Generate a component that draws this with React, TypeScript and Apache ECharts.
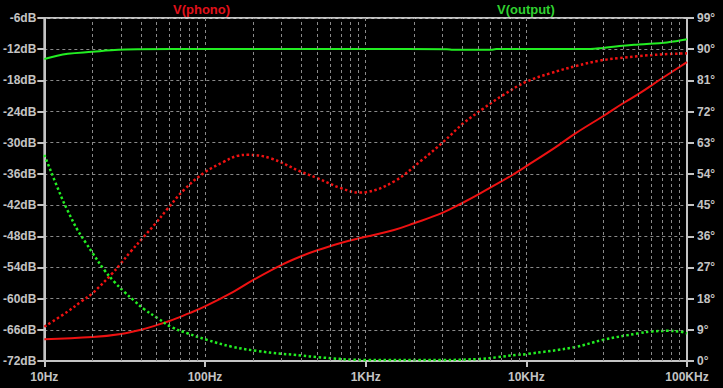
import React, { useEffect, useRef } from "react";
import * as echarts from "echarts";

// V(phono) magnitude (solid red), dB
const phonoMagFreq = [10, 20, 30, 40, 50, 60, 70, 80, 100, 150, 200, 300, 400, 500, 700, 1000, 1500, 2000, 3000, 4000, 5000, 6000, 8000, 10000, 15000, 20000, 30000, 40000, 50000, 70000, 100000];
const phonoMagDb = [-67.8, -67.4, -66.8, -66.0, -65.1, -64.3, -63.5, -62.8, -61.5, -58.7, -56.4, -53.5, -51.8, -50.7, -49.3, -48.1, -46.8, -45.5, -43.5, -41.6, -40.0, -38.6, -36.4, -34.5, -31.0, -28.3, -24.9, -22.4, -20.6, -17.6, -14.5];

// V(phono) phase (dotted red), degrees
const phonoPhFreq = [10, 14, 17, 20, 26, 30, 34.5, 40.8, 49.4, 58.4, 74, 100, 130, 159, 187, 256, 393, 500, 700, 927, 1000, 1500, 2240, 3050, 4060, 5410, 7200, 10000, 14000, 20600, 28700, 37300, 50000, 70000, 100000];
const phonoPhDeg = [9.9, 14.3, 17.2, 19.6, 24.9, 28.2, 31.6, 35.4, 39.8, 43.9, 49.4, 54.5, 57.4, 59.2, 59.5, 58.5, 54.7, 52.8, 49.9, 48.6, 48.7, 51.8, 58.0, 63.3, 68.6, 72.9, 76.8, 80.6, 83.0, 85.2, 86.7, 87.4, 88.0, 88.5, 88.8];

// V(output) magnitude (solid green), dB
const outMagFreq = [10, 14, 20, 26, 38, 100, 1000, 3200, 3500, 6000, 6500, 25000, 30000, 38000, 50000, 75000, 100000];
const outMagDb = [-13.9, -12.9, -12.5, -12.2, -12.02, -11.98, -11.98, -12.0, -12.12, -12.12, -11.98, -11.95, -11.75, -11.4, -11.1, -10.7, -10.1];

// V(output) phase (dotted green), degrees
const outPhFreq = [10, 12.7, 14, 16.1, 18.2, 20, 23.6, 27.2, 31.4, 36.2, 41.7, 50.6, 61.3, 77.8, 103, 145, 211, 300, 400, 500, 1000, 3000, 5150, 6600, 8800, 10000, 20000, 30000, 50000, 60000, 75000, 90000, 100000];
const outPhDeg = [59.5, 47.6, 43.3, 37.8, 34.0, 31.1, 26.3, 22.9, 20.0, 17.4, 15.0, 12.4, 9.9, 8.0, 6.1, 4.2, 2.9, 2.1, 1.6, 1.1, 0.3, 0.3, 0.6, 1.1, 1.8, 2.0, 4.0, 6.1, 8.0, 8.5, 8.7, 8.5, 8.0];

// minor vertical gridlines (2..9 of each decade)
const minorGridFreqs = [20, 30, 40, 50, 60, 70, 80, 90, 200, 300, 400, 500, 600, 700, 800, 900, 2000, 3000, 4000, 5000, 6000, 7000, 8000, 9000, 20000, 30000, 40000, 50000, 60000, 70000, 80000, 90000];

const legendNames = ["V(phono)", "V(output)"];

export default function App() {
  const ref = useRef<HTMLDivElement>(null);
  useEffect(() => {
    const chart = echarts.init(ref.current!, null, { renderer: "svg" });
    const pair = (f: number[], v: number[]) => f.map((x, i) => [x, v[i]]);
    const grey = "#c4c4c4";
    const gridColor = "#8a8a8a";
    const red = "#ee1111";
    const green = "#22ee22";
    const font = "'Liberation Sans', Arial, sans-serif";
    const labelStyle = { color: grey, fontWeight: "bold" as const, fontSize: 12, fontFamily: font };
    chart.setOption({
      animation: false,
      backgroundColor: "#000000",
      grid: { left: 43, right: 36, top: 18, bottom: 27, show: true, borderColor: grey, borderWidth: 2, backgroundColor: "transparent" },
      graphic: [
        { type: "text", left: 173, top: 3, style: { text: legendNames[0], fill: "#e0101a", font: `bold 13px ${font}` } },
        { type: "text", left: 497, top: 3, style: { text: legendNames[1], fill: "#30d030", font: `bold 13px ${font}` } },
      ],
      xAxis: {
        type: "log",
        logBase: 10,
        min: 10,
        max: 100000,
        axisLine: { show: true, lineStyle: { color: grey, width: 2 } },
        axisTick: { show: true, length: 6, lineStyle: { color: grey, width: 2 } },
        axisLabel: {
          ...labelStyle,
          margin: 10,
          formatter: (v: number) => {
            const r = Math.round(v);
            return r >= 1000 ? `${Math.round(r / 1000)}KHz` : `${r}Hz`;
          },
        },
        splitLine: { show: true, lineStyle: { color: gridColor, type: [3, 3], width: 1 } },
      },
      yAxis: [
        {
          type: "value",
          min: -72,
          max: -6,
          interval: 6,
          position: "left",
          axisLine: { show: true, lineStyle: { color: grey, width: 2 } },
          axisTick: { show: true, length: 7, lineStyle: { color: grey, width: 2 } },
          axisLabel: { ...labelStyle, margin: 8, formatter: "{value}dB" },
          splitLine: { show: true, lineStyle: { color: gridColor, type: [3, 3], width: 1 } },
        },
        {
          type: "value",
          min: 0,
          max: 99,
          interval: 9,
          position: "right",
          axisLine: { show: true, lineStyle: { color: grey, width: 2 } },
          axisTick: { show: true, length: 7, lineStyle: { color: grey, width: 2 } },
          axisLabel: { ...labelStyle, margin: 10, formatter: "{value}°" },
          splitLine: { show: false },
        },
      ],
      series: [
        {
          type: "line",
          name: "grid",
          data: [],
          z: 1,
          silent: true,
          markLine: {
            silent: true,
            symbol: ["none", "none"],
            label: { show: false },
            lineStyle: { color: gridColor, type: [3, 3], width: 1 },
            data: minorGridFreqs.map((f) => ({ xAxis: f })),
          },
        },
        {
          type: "line",
          name: "phono mag",
          yAxisIndex: 0,
          data: pair(phonoMagFreq, phonoMagDb),
          smooth: 0.4,
          showSymbol: false,
          lineStyle: { color: red, width: 2 },
        },
        {
          type: "line",
          name: "phono phase",
          yAxisIndex: 1,
          data: pair(phonoPhFreq, phonoPhDeg),
          smooth: 0.4,
          showSymbol: false,
          lineStyle: { color: red, width: 2.5, type: [2.5, 2.5] },
        },
        {
          type: "line",
          name: "output mag",
          yAxisIndex: 0,
          data: pair(outMagFreq, outMagDb),
          smooth: 0.4,
          showSymbol: false,
          lineStyle: { color: green, width: 2 },
        },
        {
          type: "line",
          name: "output phase",
          yAxisIndex: 1,
          data: pair(outPhFreq, outPhDeg),
          smooth: 0.4,
          showSymbol: false,
          lineStyle: { color: green, width: 2.5, type: [2.5, 2.5] },
        },
      ],
    });
    return () => chart.dispose();
  }, []);
  return <div ref={ref} style={{ position: "fixed", left: 0, top: 0, width: 723, height: 388 }} />;
}
